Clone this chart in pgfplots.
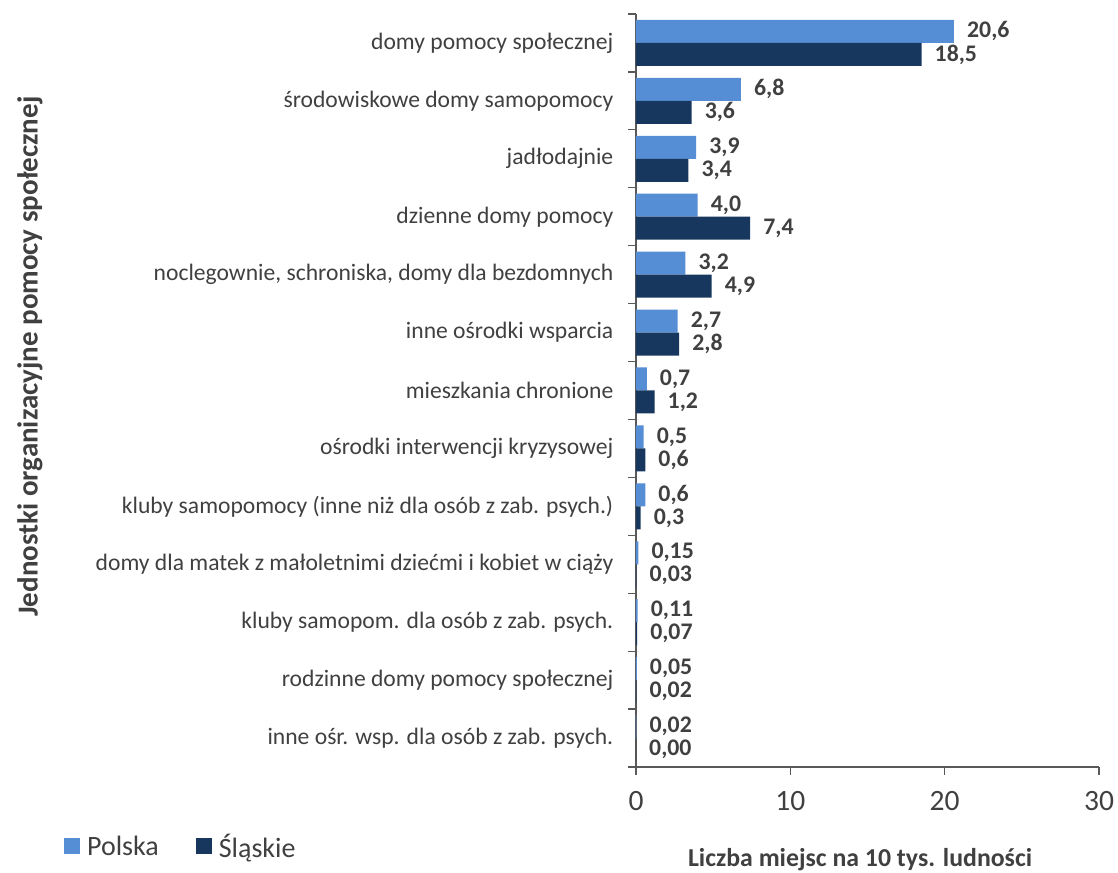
\documentclass[border=0pt]{standalone}
\usepackage{pgfplots}
\pgfplotsset{compat=1.18}
\usepackage{pgfplotstable}
\usepackage{fontspec}
\setmainfont{Carlito}

\definecolor{polska}{HTML}{558ED5}
\definecolor{slaskie}{HTML}{17375E}
\definecolor{txt}{HTML}{404040}
\definecolor{axl}{HTML}{595959}

% y = position from the bottom (0 = last category)
\pgfplotstableread{
y x lab
12 20.6 20,6
11 6.8 6,8
10 3.9 3,9
9 4.0 4,0
8 3.2 3,2
7 2.7 2,7
6 0.7 0,7
5 0.5 0,5
4 0.6 0,6
3 0.15 0,15
2 0.11 0,11
1 0.05 0,05
0 0.02 0,02
}\polska

\pgfplotstableread{
y x lab
12 18.5 18,5
11 3.6 3,6
10 3.4 3,4
9 7.4 7,4
8 4.9 4,9
7 2.8 2,8
6 1.2 1,2
5 0.6 0,6
4 0.3 0,3
3 0.03 0,03
2 0.07 0,07
1 0.02 0,02
0 0.00 0,00
}\slaskie

\begin{document}
\begin{tikzpicture}
\begin{axis}[at={(0,0)},anchor=south west,
width=463pt,height=753pt,scale only axis,
xbar,bar width=23pt,
xmin=0,xmax=30,ymin=-0.5,ymax=12.5,
axis x line*=bottom,axis y line*=left,
axis line style={axl,line width=1.2pt,-},
tick align=outside,major tick length=7.5pt,
tick style={axl,line width=1.2pt},
xtick={0,10,20,30},
ytick={-0.5,0.5,...,12.5},
y tick label as interval,
yticklabels={inne ośr. wsp. dla osób z zab. psych.,
rodzinne domy pomocy społecznej,
kluby samopom. dla osób z zab. psych.,
domy dla matek z małoletnimi dziećmi i kobiet w ciąży,
{kluby samopomocy (inne niż dla osób z zab. psych.)},
ośrodki interwencji kryzysowej,
mieszkania chronione,
inne ośrodki wsparcia,
{noclegownie, schroniska, domy dla bezdomnych},
dzienne domy pomocy,
jadłodajnie,
środowiskowe domy samopomocy,
domy pomocy społecznej},
/pgf/number format/assume math mode=true,
x tick label style={font=\fontsize{29.5}{32}\selectfont,text=txt,anchor=north,inner sep=0pt,yshift=-17pt},
y tick label style={font=\fontsize{23.6}{28}\selectfont,text=txt,anchor=east,inner sep=0pt,xshift=-15pt},
xlabel={Liczba miejsc na 10 tys. ludności},
xlabel style={at={(axis description cs:0.484,-0.1235)},anchor=center,font=\fontsize{25.8}{30}\selectfont\bfseries,text=txt},
ylabel={Jednostki organizacyjne pomocy społecznej},
ylabel style={at={(axis description cs:-1.309,0.545)},anchor=center,font=\fontsize{29}{33}\selectfont\bfseries,text=txt},
nodes near coords,point meta=explicit symbolic,
every node near coord/.append style={font=\fontsize{23.8}{28}\selectfont\bfseries,text=txt,anchor=west,inner sep=0pt,xshift=13pt},
legend style={at={(axis description cs:-1.242,-0.105)},anchor=west,draw=none,fill=none,
  font=\fontsize{28}{32}\selectfont,text=txt,legend columns=2,
  /tikz/every odd column/.append style={column sep=5pt},
  /tikz/every even column/.append style={column sep=35pt}},
legend image code/.code={\fill[#1] (0pt,-8pt) rectangle (16pt,8pt);},
]
\addplot[fill=polska,draw=none,bar shift=11.5pt] table[x=x,y=y,meta=lab]{\polska};
\addplot[fill=slaskie,draw=none,bar shift=-11.5pt] table[x=x,y=y,meta=lab]{\slaskie};
\legend{Polska,Śląskie}
\end{axis}
\pgfresetboundingbox
\path (-636pt,-105pt) rectangle (482pt,767pt);
\end{tikzpicture}
\end{document}
